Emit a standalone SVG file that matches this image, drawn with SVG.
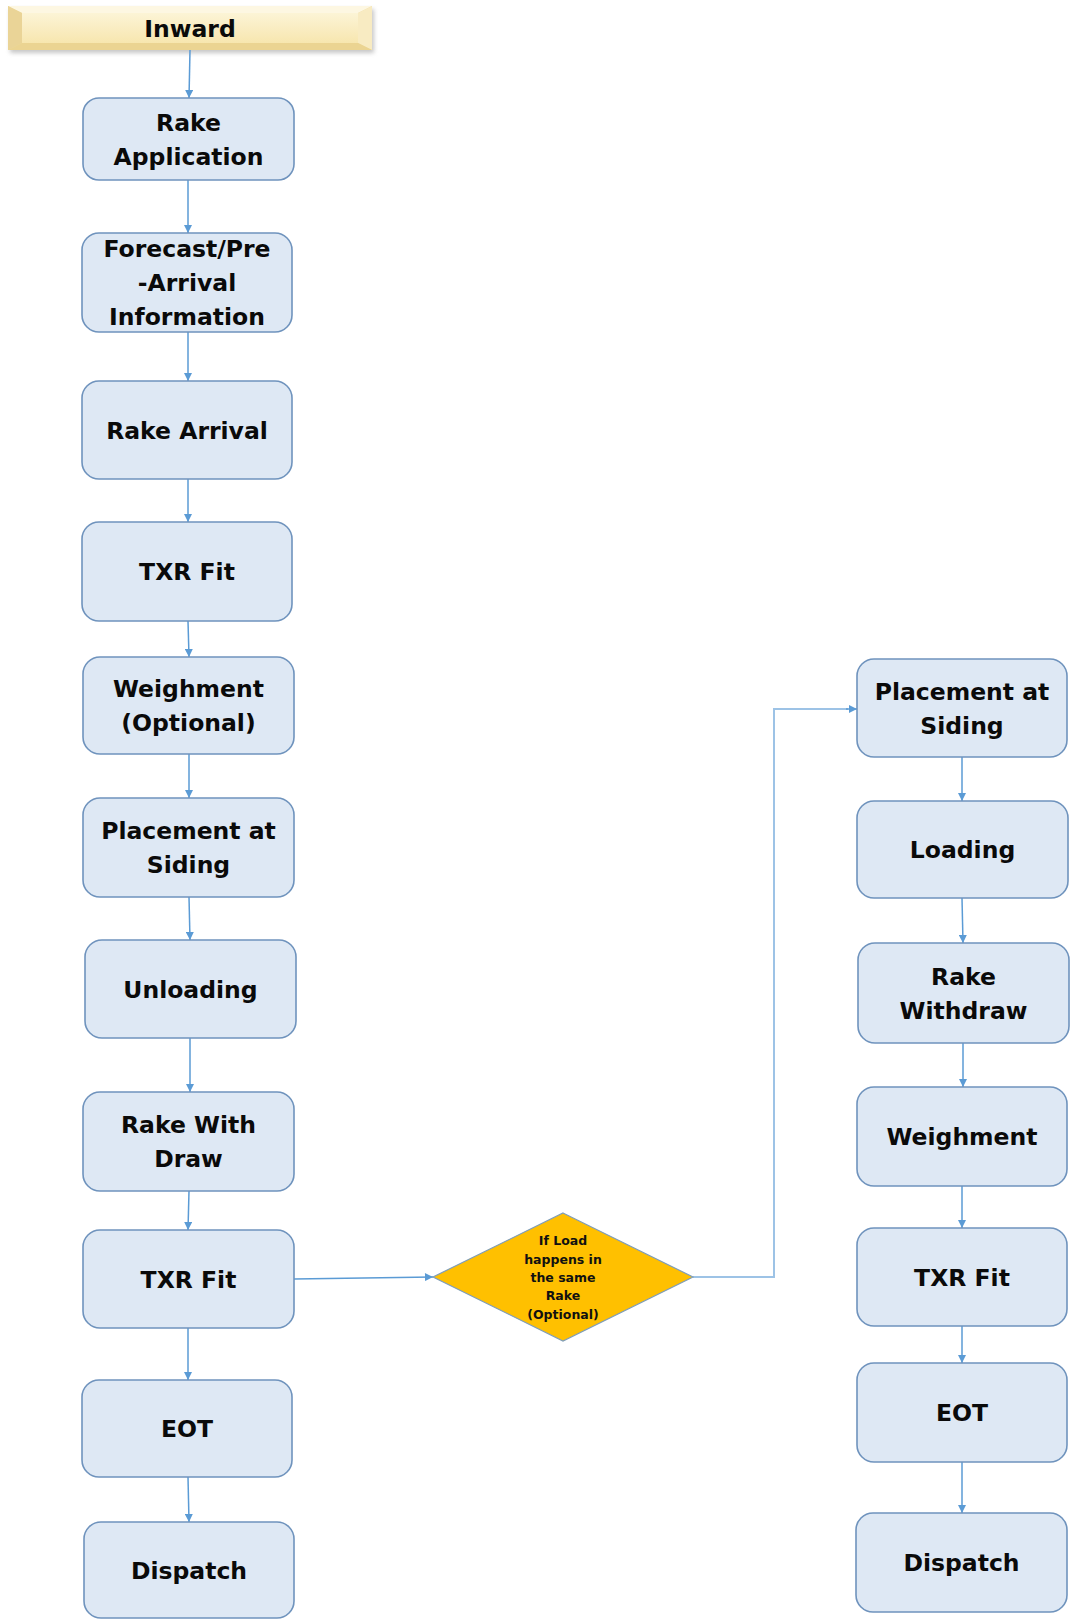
<svg xmlns="http://www.w3.org/2000/svg" width="1072" height="1620" viewBox="0 0 1072 1620">
<style>
.box{fill:#DEE8F4;stroke:#6F93BD;stroke-width:1.6}
.t{font-family:"DejaVu Sans",sans-serif;font-weight:bold;font-size:23.5px;fill:#0a0a0a;text-anchor:middle}
.d{font-family:"DejaVu Sans",sans-serif;font-weight:bold;font-size:12.5px;fill:#111;text-anchor:middle}
.c{fill:none;stroke:#5B9BD5;stroke-width:1.5}
.c2{fill:none;stroke:#9DC3E6;stroke-width:2}
</style>
<defs>
<marker id="ah" viewBox="0 0 10 10" markerUnits="userSpaceOnUse" markerWidth="9" markerHeight="8" refX="10" refY="5" orient="auto">
<path d="M0,0 L10,5 L0,10 z" fill="#5B9BD5"/>
</marker>
<linearGradient id="face" x1="0" y1="0" x2="0" y2="1">
<stop offset="0" stop-color="#FCF4D6"/>
<stop offset="1" stop-color="#F7E6AF"/>
</linearGradient>
<filter id="sh" x="-5%" y="-30%" width="110%" height="160%">
<feGaussianBlur stdDeviation="2"/>
</filter>
</defs>
<rect width="1072" height="1620" fill="#ffffff"/>

<g id="inward">
<rect x="10" y="9" width="364" height="44" fill="#9a9a9a" opacity="0.55" filter="url(#sh)"/>
<rect x="8" y="6" width="364" height="44" fill="#F0DDA2"/>
<polygon points="8,6 372,6 358,13 22,13" fill="#FDF7E2"/>
<polygon points="8,6 22,13 22,43 8,50" fill="#EAD497"/>
<polygon points="372,6 372,50 358,43 358,13" fill="#F8EBC2"/>
<polygon points="8,50 22,43 358,43 372,50" fill="#EBD492"/>
<rect x="22" y="13" width="336" height="30" fill="url(#face)"/>
<text class="t" x="190" y="37">Inward</text>
</g>

<g id="connectors">
<line class="c" x1="190" y1="50" x2="189" y2="98" marker-end="url(#ah)"/>
<line class="c" x1="188" y1="180" x2="188" y2="233" marker-end="url(#ah)"/>
<line class="c" x1="188" y1="332" x2="188" y2="381" marker-end="url(#ah)"/>
<line class="c" x1="188" y1="479" x2="188" y2="522" marker-end="url(#ah)"/>
<line class="c" x1="188" y1="621" x2="189" y2="657" marker-end="url(#ah)"/>
<line class="c" x1="189" y1="754" x2="189" y2="798" marker-end="url(#ah)"/>
<line class="c" x1="189" y1="897" x2="190" y2="940" marker-end="url(#ah)"/>
<line class="c" x1="190" y1="1038" x2="190" y2="1092" marker-end="url(#ah)"/>
<line class="c" x1="189" y1="1191" x2="188" y2="1230" marker-end="url(#ah)"/>
<line class="c" x1="188" y1="1328" x2="188" y2="1380" marker-end="url(#ah)"/>
<line class="c" x1="188" y1="1477" x2="189" y2="1522" marker-end="url(#ah)"/>
<line class="c" x1="962" y1="757" x2="962" y2="801" marker-end="url(#ah)"/>
<line class="c" x1="962" y1="898" x2="963" y2="943" marker-end="url(#ah)"/>
<line class="c" x1="963" y1="1043" x2="963" y2="1087" marker-end="url(#ah)"/>
<line class="c" x1="962" y1="1186" x2="962" y2="1228" marker-end="url(#ah)"/>
<line class="c" x1="962" y1="1326" x2="962" y2="1363" marker-end="url(#ah)"/>
<line class="c" x1="962" y1="1462" x2="962" y2="1513" marker-end="url(#ah)"/>
<line class="c" x1="294" y1="1279" x2="433" y2="1277" marker-end="url(#ah)"/>
<polyline class="c2" points="693,1277 774,1277 774,709 848,709"/>
<line class="c" x1="846" y1="709" x2="857" y2="709" marker-end="url(#ah)"/>
</g>

<g id="rake-application"><rect class="box" x="83" y="98" width="211" height="82" rx="16"/>
<text class="t" x="188.5" y="131">Rake</text><text class="t" x="188.5" y="165">Application</text></g>

<g id="forecast"><rect class="box" x="82" y="233" width="210" height="99" rx="17"/>
<text class="t" x="187" y="257">Forecast/Pre</text><text class="t" x="187" y="291">-Arrival</text><text class="t" x="187" y="325">Information</text></g>

<g id="rake-arrival"><rect class="box" x="82" y="381" width="210" height="98" rx="17"/>
<text class="t" x="187" y="438.5">Rake Arrival</text></g>

<g id="txr-fit-1"><rect class="box" x="82" y="522" width="210" height="99" rx="17"/>
<text class="t" x="187" y="580">TXR Fit</text></g>

<g id="weighment-optional"><rect class="box" x="83" y="657" width="211" height="97" rx="17"/>
<text class="t" x="188.5" y="697">Weighment</text><text class="t" x="188.5" y="731">(Optional)</text></g>

<g id="placement-1"><rect class="box" x="83" y="798" width="211" height="99" rx="17"/>
<text class="t" x="188.5" y="839">Placement at</text><text class="t" x="188.5" y="873">Siding</text></g>

<g id="unloading"><rect class="box" x="85" y="940" width="211" height="98" rx="17"/>
<text class="t" x="190.5" y="997.5">Unloading</text></g>

<g id="rake-with-draw"><rect class="box" x="83" y="1092" width="211" height="99" rx="17"/>
<text class="t" x="188.5" y="1133">Rake With</text><text class="t" x="188.5" y="1167">Draw</text></g>

<g id="txr-fit-2"><rect class="box" x="83" y="1230" width="211" height="98" rx="17"/>
<text class="t" x="188.5" y="1287.5">TXR Fit</text></g>

<g id="eot-1"><rect class="box" x="82" y="1380" width="210" height="97" rx="17"/>
<text class="t" x="187" y="1437">EOT</text></g>

<g id="dispatch-1"><rect class="box" x="84" y="1522" width="210" height="96" rx="17"/>
<text class="t" x="189" y="1578.5">Dispatch</text></g>

<g id="decision">
<polygon points="563,1213 693,1277 563,1341 433,1277" fill="#FFC000" stroke="#7F9DB9" stroke-width="1.2"/>
<text class="d" x="563" y="1245">If Load</text>
<text class="d" x="563" y="1264">happens in</text>
<text class="d" x="563" y="1282">the same</text>
<text class="d" x="563" y="1300">Rake</text>
<text class="d" x="563" y="1319">(Optional)</text>
</g>

<g id="placement-2"><rect class="box" x="857" y="659" width="210" height="98" rx="17"/>
<text class="t" x="962" y="699.5">Placement at</text><text class="t" x="962" y="733.5">Siding</text></g>

<g id="loading"><rect class="box" x="857" y="801" width="211" height="97" rx="17"/>
<text class="t" x="962.5" y="858">Loading</text></g>

<g id="rake-withdraw"><rect class="box" x="858" y="943" width="211" height="100" rx="17"/>
<text class="t" x="963.5" y="984.5">Rake</text><text class="t" x="963.5" y="1018.5">Withdraw</text></g>

<g id="weighment"><rect class="box" x="857" y="1087" width="210" height="99" rx="17"/>
<text class="t" x="962" y="1145">Weighment</text></g>

<g id="txr-fit-3"><rect class="box" x="857" y="1228" width="210" height="98" rx="17"/>
<text class="t" x="962" y="1285.5">TXR Fit</text></g>

<g id="eot-2"><rect class="box" x="857" y="1363" width="210" height="99" rx="17"/>
<text class="t" x="962" y="1421">EOT</text></g>

<g id="dispatch-2"><rect class="box" x="856" y="1513" width="211" height="99" rx="17"/>
<text class="t" x="961.5" y="1571">Dispatch</text></g>
</svg>
